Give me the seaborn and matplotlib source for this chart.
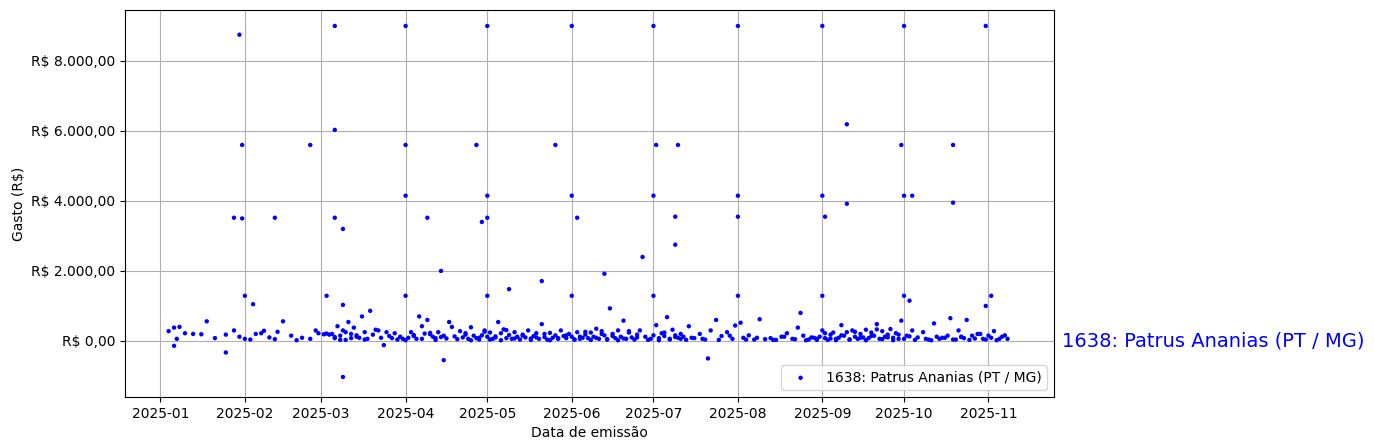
import pandas as pd
import matplotlib
matplotlib.use("Agg")
import matplotlib.pyplot as plt
import matplotlib.dates as mdates
import matplotlib.ticker as mticker
import matplotlib.transforms as mtransforms
import seaborn as sns

deputado = "1638: Patrus Ananias (PT / MG)"

# gastos maiores (dia do ano a partir de 2025-01-01, valor em R$)
dias_altos = [29, 30, 27, 30, 42, 55, 64, 64, 64, 67, 67, 90, 90, 90, 90, 98, 103, 104,
              116, 118, 120, 120, 120, 120, 128, 140, 145, 151, 151, 151, 153, 163, 177,
              181, 181, 181, 182, 189, 189, 190, 201, 212, 212, 212, 212, 243, 243, 244,
              243, 252, 252, 273, 272, 273, 276, 273, 275, 291, 291, 303, 305, 31, 34, 61,
              67, 24, 5]
valores_altos = [8750, 5600, 3520, 3500, 3520, 5600, 9000, 6030, 3520, 3200, -1030, 9000,
                 5600, 4150, 1290, 3520, 2000, -550, 5600, 3400, 9000, 4150, 3520, 1290,
                 1480, 1710, 5600, 9000, 4150, 1290, 3520, 1920, 2400, 9000, 4150, 1290,
                 5600, 3550, 2750, 5600, -500, 9000, 4150, 3550, 1290, 9000, 4150, 3550,
                 1290, 6190, 3920, 9000, 5600, 4150, 4150, 1290, 1150, 3950, 5600, 9000,
                 1290, 1290, 1050, 1290, 1030, -330, -140]

# gastos do dia a dia (mesma convenção)
dias_baixos = [3, 5, 6, 7, 9, 12, 15, 17, 20, 24, 27, 29, 31, 33, 35, 37, 38, 40, 42, 43, 45,
               48, 50, 52, 55, 57, 58, 60, 61, 62, 63, 64, 65, 66, 67, 68, 69, 70, 71, 72, 73,
               74, 75, 76, 77, 78, 80, 82, 83, 84, 85, 86, 87, 88, 89, 91, 92, 93, 94, 95, 96,
               97, 98, 99, 100, 101, 102, 104, 106, 108, 110, 111, 112, 113, 114, 115, 116,
               117, 118, 119, 120, 121, 122, 123, 124, 125, 126, 127, 128, 129, 130, 131,
               132, 133, 134, 135, 136, 137, 138, 139, 140, 141, 142, 143, 144, 145, 146,
               147, 148, 149, 150, 151, 152, 153, 154, 155, 156, 157, 158, 159, 160, 161,
               162, 163, 164, 165, 166, 167, 168, 169, 170, 171, 172, 173, 174, 175, 176,
               178, 180, 182, 183, 184, 185, 186, 187, 188, 189, 190, 191, 192, 194, 196,
               198, 200, 202, 204, 206, 208, 210, 211, 213, 214, 216, 218, 220, 222, 224,
               226, 228, 230, 232, 234, 235, 236, 238, 240, 241, 242, 243, 244, 245, 246,
               247, 248, 249, 250, 251, 252, 253, 254, 255, 256, 257, 258, 259, 260, 261,
               262, 263, 264, 265, 266, 267, 268, 269, 270, 271, 272, 274, 276, 278, 280,
               282, 284, 285, 286, 288, 290, 292, 293, 294, 295, 296, 298, 300, 302, 303,
               304, 306, 308, 310, 312]
valores_baixos = [280, 380, 60, 400, 220, 200, 190, 560, 80, 180, 300, 120, 60, 40, 200, 220,
                  290, 100, 50, 260, 560, 150, 20, 90, 60, 300, 220, 190, 210, 180, 200, 80,
                  420, 150, 300, 30, 540, 200, 380, 120, 90, 700, 250, 60, 860, 180, 300,
                  -120, 250, 140, 80, 220, 40, 120, 60, 90, 250, 170, 60, 700, 420, 210, 600,
                  190, 120, 80, 250, 150, 540, 130, 280, 100, 220, 60, 390, 150, 80, 40, 160,
                  300, 120, 240, 60, 100, 540, 220, 330, 80, 170, 60, 250, 120, 40, 180, 100,
                  300, 70, 140, 220, 60, 480, 110, 40, 230, 90, 160, 60, 300, 140, 80, 200,
                  120, 40, 250, 60, 90, 180, 80, 240, 120, 350, 60, 280, 160, 40, 930, 200,
                  80, 300, 120, 580, 60, 240, 100, 40, 180, 300, 120, 60, 450, 80, 220, 140,
                  680, 40, 320, 160, 90, 60, 120, 420, 80, 200, 40, 300, 600, 140, 250, 60,
                  440, 520, 90, 160, 40, 620, 50, 80, 30, 120, 220, 60, 380, 800, 150, 40, 90,
                  60, 120, 300, 80, 30, 180, 240, 60, 90, 450, 150, 250, 40, 300, 120, 60, 200,
                  100, 320, 80, 240, 150, 480, 60, 280, 120, 180, 340, 90, 220, 60, 580, 150,
                  300, 100, 250, 40, 500, 120, 60, 90, 650, 40, 300, 120, 80, 600, 150, 200,
                  60, 1000, 150, 280, 60, 160]

# mais gastos pequenos, onde a nuvem é mais densa
dias_extra = [64, 66, 68, 70, 72, 75, 79, 81, 90, 93, 96, 99, 101, 103, 105, 107, 109, 112,
              114, 117, 119, 121, 123, 125, 127, 130, 133, 136, 138, 141, 143, 146, 149, 152,
              154, 156, 158, 160, 162, 164, 166, 168, 170, 172, 175, 179, 181, 183, 185, 187,
              189, 191, 193, 195, 199, 205, 209, 215, 219, 225, 229, 233, 237, 239, 241, 244,
              246, 248, 250, 253, 255, 257, 259, 261, 263, 265, 267, 269, 271, 273, 275, 277,
              281, 283, 287, 289, 291, 294, 297, 299, 301, 303, 305, 307, 309, 311]
valores_extra = [110, 30, 250, 80, 160, 40, 320, 90, 20, 140, 60, 230, 30, 110, 70, 400,
                 50, 180, 20, 90, 260, 40, 130, 20, 310, 70, 150, 30, 100, 200, 20, 80,
                 160, 40, 120, 260, 30, 90, 200, 50, 140, 20, 70, 280, 100, 30, 160, 20,
                 240, 60, 110, 200, 30, 90, 60, 30, 150, 40, 90, 30, 120, 50, 20, 100, 30,
                 220, 70, 20, 160, 40, 260, 90, 20, 140, 330, 50, 100, 20, 180, 60, 130, 30,
                 60, 20, 90, 150, 40, 110, 30, 70, 200, 40, 90, 20, 120, 60]

# junta dia e valor em pares
pares = (list(zip(dias_altos, valores_altos)) + list(zip(dias_baixos, valores_baixos))
         + list(zip(dias_extra, valores_extra)))
df = pd.DataFrame(pares, columns=["dia", "gasto"])
df["data"] = pd.Timestamp("2025-01-01") + pd.to_timedelta(df["dia"], unit="D")

fig, ax = plt.subplots(figsize=(13.74, 4.48), dpi=100)
fig.subplots_adjust(left=0.091, right=0.767, top=0.978, bottom=0.114)
sns.scatterplot(data=df, x="data", y="gasto", color="blue", s=10, edgecolor="none",
                label=deputado, ax=ax)
ax.grid(True, color="#b0b0b0")
ax.set_axisbelow(True)
ax.set_xlim(pd.Timestamp("2024-12-19"), pd.Timestamp("2025-11-25"))
ax.set_ylim(-1600, 9460)
ax.xaxis.set_major_locator(mdates.MonthLocator())
ax.xaxis.set_major_formatter(mdates.DateFormatter("%Y-%m"))
ax.yaxis.set_major_locator(mticker.MultipleLocator(2000))
ax.yaxis.set_major_formatter(mticker.FuncFormatter(
    lambda v, p: "R$ " + f"{v:,.2f}".replace(",", "X").replace(".", ",").replace("X", ".")))
ax.set_xlabel("Data de emissão")
ax.set_ylabel("Gasto (R$)")
ax.legend(loc="lower right")
trans = mtransforms.blended_transform_factory(ax.transAxes, ax.transData)
ax.text(1.009, 0, deputado, transform=trans, color="blue", fontsize=14,
        va="center", ha="left")
fig.savefig("out.png", dpi=100)
